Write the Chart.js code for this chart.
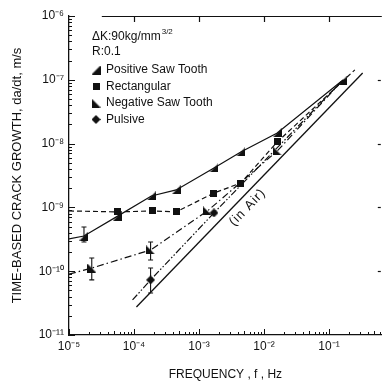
<!DOCTYPE html>
<html><head><meta charset="utf-8">
<script src="https://cdn.jsdelivr.net/npm/chart.js@4.4.1/dist/chart.umd.min.js"></script>
<style>html,body{margin:0;padding:0;background:#fff;overflow:hidden}#wrap{width:387px;height:383px}</style>
</head><body><div id="wrap"><canvas id="c" width="387" height="383"></canvas></div>
<script>
// ---------- data ----------
const xTickValues = [1e-5, 1e-4, 1e-3, 1e-2, 1e-1];
const xTickLabels = ['10⁻⁵', '10⁻⁴', '10⁻³', '10⁻²', '10⁻¹'];
const yTickValues = [1e-11, 1e-10, 1e-9, 1e-8, 1e-7, 1e-6];
const yTickLabels = ['10⁻¹¹', '10⁻¹⁰', '10⁻⁹', '10⁻⁸', '10⁻⁷', '10⁻⁶'];

const seriesNames = ['Positive Saw Tooth', 'Rectangular', 'Negative Saw Tooth', 'Pulsive'];

const posFreq = [1.7e-5, 5.6e-5, 1.85e-4, 4.46e-4, 1.7e-3, 4.4e-3, 1.6e-2, 1.64e-1];
const posRate = [3.56e-10, 7.3e-10, 1.51e-9, 1.88e-9, 4.15e-9, 7.4e-9, 1.47e-8, 9.9e-8];
const posLineStart = [1e-5, 3.2e-10];

const rectFreq = [5.6e-5, 1.9e-4, 4.46e-4, 1.7e-3, 4.4e-3, 1.6e-2];
const rectRate = [8.5e-10, 8.8e-10, 8.5e-10, 1.68e-9, 2.41e-9, 1.06e-8];
const rectLineStart = [1e-5, 8.8e-10];
const rectLineEnd = [0.25, 1.43e-7];

const negFreq = [2.24e-5, 1.8e-4, 1.35e-3, 1.6e-2];
const negRate = [1.12e-10, 2.15e-10, 8.8e-10, 7.66e-9];
const negLineStart = [1e-5, 9.0e-11];
const negLineEnd = [1.64e-1, 9.9e-8];

const pulFreq = [1.8e-4, 1.7e-3];
const pulRate = [7.3e-11, 8.2e-10];
const pulLineStart = [9.5e-5, 3.54e-11];
const pulLineEnd = [1.64e-1, 9.9e-8];

const airFreq = [1.09e-4, 0.33];
const airRate = [2.75e-11, 1.28e-7];
const airLabel = '(in Air)';

const errFreq = [1.7e-5, 2.24e-5, 1.8e-4, 1.8e-4];
const errLow = [2.87e-10, 7.3e-11, 1.50e-10, 4.55e-11];
const errHigh = [4.93e-10, 1.61e-10, 2.87e-10, 1.12e-10];

const noteLines = ['ΔK:90kg/mm', 'R:0.1'];
const noteSup = '3/2';

// ---------- markers ----------
const INK = '#111';
function marker(kind) {
  const s = kind === 'rect' ? 7 : 9;
  const c = document.createElement('canvas'); c.width = s; c.height = s;
  const g = c.getContext('2d'); g.fillStyle = INK; g.beginPath();
  if (kind === 'pos') { g.moveTo(0, s); g.lineTo(s, s); g.lineTo(s, 0); }
  else if (kind === 'neg') { g.moveTo(0, 0); g.lineTo(0, s); g.lineTo(s, s); }
  else if (kind === 'rect') { g.rect(0, 0, s, s); }
  else { g.moveTo(s / 2, 0); g.lineTo(s, s / 2); g.lineTo(s / 2, s); g.lineTo(0, s / 2); }
  g.closePath(); g.fill(); return c;
}
const markers = [marker('pos'), marker('rect'), marker('neg'), marker('dia')];

function series(label, freq, rate, start, end, img, dash) {
  const data = [];
  const radius = [];
  if (start) { data.push({x: start[0], y: start[1]}); radius.push(0); }
  freq.forEach((f, i) => { data.push({x: f, y: rate[i]}); radius.push(4); });
  if (end) { data.push({x: end[0], y: end[1]}); radius.push(0); }
  return {
    label, data, borderColor: INK, backgroundColor: INK, borderWidth: 1.2,
    borderDash: dash, pointStyle: img, pointRadius: radius, pointHoverRadius: radius,
    tension: 0, fill: false
  };
}

const datasets = [
  series(seriesNames[0], posFreq, posRate, posLineStart, null, markers[0], []),
  series(seriesNames[1], rectFreq, rectRate, rectLineStart, rectLineEnd, markers[1], [5, 3]),
  series(seriesNames[2], negFreq, negRate, negLineStart, negLineEnd, markers[2], [7, 3, 1.5, 3]),
  series(seriesNames[3], pulFreq, pulRate, pulLineStart, pulLineEnd, markers[3], [7, 2, 1.5, 2, 1.5, 2]),
  {label: 'in Air', data: airFreq.map((f, i) => ({x: f, y: airRate[i]})), borderColor: INK,
   borderWidth: 1.3, pointRadius: 0, fill: false}
];
errFreq.forEach((f, i) => {
  datasets.push({label: 'err' + i, data: [{x: f, y: errLow[i]}, {x: f, y: errHigh[i]}],
    borderColor: INK, backgroundColor: INK, borderWidth: 1.1, pointStyle: 'line',
    pointRadius: 2.5, pointBorderWidth: 1.1, fill: false});
});

// ---------- decorations ----------
const FONT = '"Liberation Sans", Arial, sans-serif';
const decor = {
  id: 'decor',
  afterDraw(chart) {
    const ctx = chart.ctx, xs = chart.scales.x, ys = chart.scales.y, a = chart.chartArea;
    ctx.save();
    ctx.strokeStyle = INK; ctx.lineWidth = 1;
    for (let d = -5; d <= 0; d++) for (let m = 1; m <= 9; m++) {
      const v = m * Math.pow(10, d);
      if (v < xs.min || v > xs.max) continue;
      const px = Math.round(xs.getPixelForValue(v)) + 0.5;
      const len = m === 1 ? 6 : (m === 5 ? 4 : 3);
      ctx.beginPath(); ctx.moveTo(px, a.bottom); ctx.lineTo(px, a.bottom - len); ctx.stroke();
    }
    for (let d = -11; d <= -6; d++) for (let m = 1; m <= 9; m++) {
      const v = m * Math.pow(10, d);
      if (v < ys.min * 0.999 || v > ys.max * 1.001) continue;
      const py = Math.round(ys.getPixelForValue(v)) + 0.5;
      const len = m === 1 ? 6 : 3;
      ctx.beginPath(); ctx.moveTo(a.left, py); ctx.lineTo(a.left + len, py); ctx.stroke();
    }
    ctx.lineWidth = 1.2;
    ctx.beginPath(); ctx.moveTo(xs.getPixelForValue(3.2e-5), a.top + 0.5); ctx.lineTo(a.right, a.top + 0.5); ctx.stroke();
    [1e-4, 1e-3, 1e-2, 1e-1].forEach(v => {
      const px = Math.round(xs.getPixelForValue(v)) + 0.5;
      ctx.beginPath(); ctx.moveTo(px, a.top); ctx.lineTo(px, a.top + 6); ctx.stroke();
    });
    [1e-10, 1e-9, 1e-8, 1e-7].forEach(v => {
      const py = Math.round(ys.getPixelForValue(v)) + 0.5;
      ctx.beginPath(); ctx.moveTo(a.right - 4, py); ctx.lineTo(a.right - 1, py); ctx.stroke();
    });
    ctx.fillStyle = INK; ctx.textBaseline = 'middle'; ctx.textAlign = 'left';
    ctx.font = '12px ' + FONT;
    const lx = a.left + 23;
    ctx.fillText(noteLines[0], lx, a.top + 21);
    const w = ctx.measureText(noteLines[0]).width;
    ctx.font = '8px ' + FONT;
    ctx.fillText(noteSup, lx + w + 1, a.top + 16);
    ctx.font = '12px ' + FONT;
    ctx.fillText(noteLines[1], lx, a.top + 36);
    seriesNames.forEach((n, i) => {
      const yy = a.top + 54 + i * 16.5;
      const img = markers[i];
      ctx.drawImage(img, lx + 4 - img.width / 2, yy - img.height / 2);
      ctx.fillText(n, lx + 14, yy);
    });
    const p1x = xs.getPixelForValue(airFreq[0]), p1y = ys.getPixelForValue(airRate[0]);
    const p2x = xs.getPixelForValue(airFreq[1]), p2y = ys.getPixelForValue(airRate[1]);
    const ang = Math.atan2(p2y - p1y, p2x - p1x);
    const cx = xs.getPixelForValue(5.6e-3), cy = ys.getPixelForValue(1.0e-9);
    ctx.translate(cx, cy); ctx.rotate(ang);
    ctx.textAlign = 'center';
    ctx.font = '13px ' + FONT;
    if ('letterSpacing' in ctx) ctx.letterSpacing = '1px';
    ctx.fillText(airLabel, 0, 0);
    ctx.restore();
  }
};

new Chart(document.getElementById('c'), {
  type: 'line',
  data: {datasets},
  options: {
    responsive: false, animation: false, events: [],
    layout: {padding: {top: 16, right: 2, left: 0, bottom: 0}},
    plugins: {legend: {display: false}, tooltip: {enabled: false}},
    scales: {
      x: {
        type: 'logarithmic', min: 1e-5, max: 0.65,
        grid: {display: false, drawTicks: false},
        border: {display: true, color: INK, width: 1.3},
        afterBuildTicks: s => { s.ticks = xTickValues.map(v => ({value: v})); },
        afterFit: s => { s.height = 48; },
        ticks: {autoSkip: false, maxRotation: 0, padding: 4, color: INK,
          font: {family: FONT, size: 12},
          callback: (v) => { const i = xTickValues.findIndex(t => Math.abs(t - v) / t < 1e-6); return i >= 0 ? xTickLabels[i] : ''; }},
        title: {display: true, text: 'FREQUENCY , f , Hz', color: INK, padding: {top: 0, bottom: 1},
          font: {family: FONT, size: 12}}
      },
      y: {
        type: 'logarithmic', min: 1e-11, max: 1e-6,
        grid: {display: false, drawTicks: false},
        border: {display: true, color: INK, width: 1.3},
        afterBuildTicks: s => { s.ticks = yTickValues.map(v => ({value: v})); },
        afterFit: s => { s.width = 69; },
        ticks: {autoSkip: false, padding: 5, color: INK,
          font: {family: FONT, size: 12},
          callback: (v) => { const i = yTickValues.findIndex(t => Math.abs(t - v) / t < 1e-6); return i >= 0 ? yTickLabels[i] : ''; }},
        title: {display: true, text: 'TIME-BASED CRACK GROWTH, da/dt, m/s', color: INK, padding: {top: 10, bottom: 0},
          font: {family: FONT, size: 13}}
      }
    }
  },
  plugins: [decor]
});
</script>
</body></html>
